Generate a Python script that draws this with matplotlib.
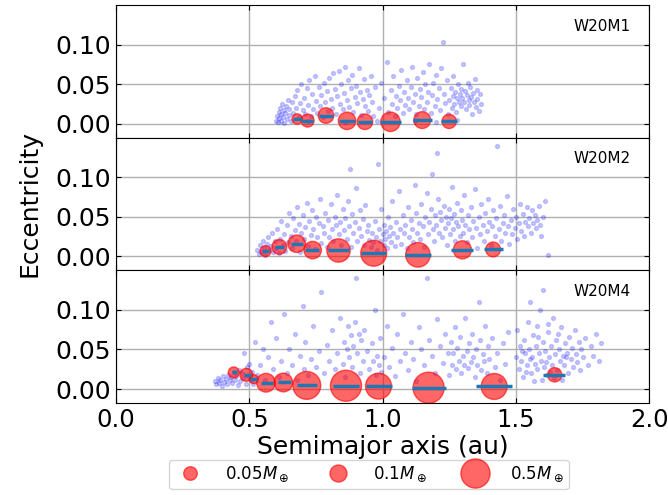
import numpy as np
import matplotlib.pyplot as plt
from matplotlib.lines import Line2D

plt.rcParams["font.size"] = 18

# Run names
runs = ['W20M1', 'W20M2', 'W20M4']

# Planets: semimajor axis (au), eccentricity, mass (M_earth), extent of blue bar (au)
a_p1 = [0.679, 0.718, 0.787, 0.866, 0.933, 1.029, 1.148, 1.249]
e_p1 = [0.006, 0.004, 0.0104, 0.0037, 0.0025, 0.0025, 0.0046, 0.003]
m_p1 = [0.023, 0.044, 0.076, 0.108, 0.076, 0.148, 0.096, 0.059]
lo_p1 = [0.662, 0.697, 0.762, 0.834, 0.906, 0.991, 1.114, 1.218]
hi_p1 = [0.696, 0.737, 0.812, 0.897, 0.960, 1.068, 1.183, 1.280]

a_p2 = [0.560, 0.612, 0.677, 0.737, 0.834, 0.966, 1.132, 1.299, 1.414]
e_p2 = [0.0067, 0.012, 0.016, 0.008, 0.0075, 0.004, 0.002, 0.0083, 0.0088]
m_p2 = [0.027, 0.066, 0.108, 0.108, 0.256, 0.352, 0.300, 0.121, 0.066]
lo_p2 = [0.548, 0.597, 0.656, 0.710, 0.793, 0.918, 1.083, 1.257, 1.380]
hi_p2 = [0.572, 0.630, 0.700, 0.762, 0.872, 1.012, 1.181, 1.340, 1.451]

a_p3 = [0.441, 0.488, 0.516, 0.562, 0.627, 0.715, 0.862, 0.984, 1.172, 1.418, 1.645]
e_p3 = [0.021, 0.018, 0.0125, 0.008, 0.0083, 0.0046, 0.0042, 0.0037, 0.0017, 0.0033, 0.018]
m_p3 = [0.027, 0.044, 0.015, 0.133, 0.133, 0.438, 0.607, 0.352, 0.607, 0.352, 0.059]
lo_p3 = [0.434, 0.479, 0.503, 0.544, 0.606, 0.679, 0.812, 0.937, 1.108, 1.349, 1.600]
hi_p3 = [0.452, 0.504, 0.529, 0.587, 0.654, 0.752, 0.912, 1.033, 1.237, 1.484, 1.685]

# Planetesimals (a, e)
small1 = [
    (0.600, 0.004), (0.603, 0.010), (0.607, 0.002), (0.610, 0.015), (0.612, 0.007), (0.615, 0.020),
    (0.618, 0.012), (0.620, 0.003), (0.623, 0.025), (0.625, 0.009), (0.628, 0.017), (0.630, 0.001),
    (0.633, 0.013), (0.636, 0.022), (0.640, 0.006), (0.643, 0.030), (0.647, 0.011), (0.650, 0.018),
    (0.655, 0.004), (0.660, 0.027), (0.665, 0.014), (0.670, 0.035), (0.675, 0.020), (0.680, 0.042),
    (0.685, 0.008), (0.690, 0.026), (0.695, 0.050), (0.700, 0.017), (0.705, 0.033), (0.710, 0.012),
    (0.715, 0.045), (0.720, 0.024), (0.725, 0.055), (0.730, 0.010), (0.735, 0.038), (0.740, 0.019),
    (0.745, 0.060), (0.750, 0.029), (0.755, 0.014), (0.760, 0.047), (0.765, 0.022), (0.770, 0.036),
    (0.775, 0.008), (0.780, 0.052), (0.785, 0.027), (0.790, 0.041), (0.795, 0.016), (0.800, 0.058),
    (0.805, 0.031), (0.810, 0.020), (0.815, 0.064), (0.820, 0.044), (0.825, 0.012), (0.830, 0.035),
    (0.835, 0.067), (0.840, 0.025), (0.845, 0.050), (0.850, 0.018), (0.855, 0.039), (0.860, 0.072),
    (0.865, 0.030), (0.870, 0.055), (0.875, 0.021), (0.880, 0.045), (0.885, 0.062), (0.890, 0.015),
    (0.895, 0.034), (0.900, 0.048), (0.905, 0.026), (0.910, 0.070), (0.915, 0.040), (0.920, 0.011),
    (0.925, 0.031), (0.930, 0.057), (0.935, 0.022), (0.940, 0.043), (0.945, 0.016), (0.950, 0.036),
    (0.955, 0.060), (0.960, 0.027), (0.965, 0.010), (0.970, 0.046), (0.985, 0.020), (0.995, 0.052),
    (1.005, 0.033), (1.015, 0.078), (1.020, 0.015), (1.030, 0.042), (1.035, 0.025), (1.040, 0.060),
    (1.045, 0.010), (1.050, 0.035), (1.055, 0.020), (1.060, 0.048), (1.065, 0.030), (1.070, 0.068),
    (1.075, 0.013), (1.080, 0.040), (1.085, 0.024), (1.090, 0.055), (1.095, 0.032), (1.100, 0.018),
    (1.105, 0.046), (1.110, 0.072), (1.115, 0.028), (1.120, 0.038), (1.125, 0.012), (1.130, 0.058),
    (1.135, 0.022), (1.140, 0.044), (1.145, 0.034), (1.150, 0.065), (1.155, 0.018), (1.160, 0.050),
    (1.165, 0.027), (1.170, 0.040), (1.175, 0.076), (1.180, 0.014), (1.185, 0.036), (1.190, 0.052),
    (1.195, 0.023), (1.200, 0.062), (1.205, 0.031), (1.210, 0.045), (1.215, 0.017), (1.220, 0.070),
    (1.225, 0.103), (1.230, 0.038), (1.235, 0.026), (1.240, 0.055), (1.245, 0.012), (1.250, 0.030),
    (1.255, 0.045), (1.258, 0.020), (1.262, 0.035), (1.265, 0.060), (1.268, 0.025), (1.272, 0.040),
    (1.275, 0.015), (1.278, 0.032), (1.282, 0.050), (1.285, 0.028), (1.288, 0.038), (1.292, 0.022),
    (1.295, 0.044), (1.298, 0.033), (1.302, 0.075), (1.305, 0.027), (1.308, 0.041), (1.312, 0.018),
    (1.315, 0.036), (1.318, 0.052), (1.322, 0.030), (1.325, 0.024), (1.328, 0.046), (1.332, 0.034),
    (1.335, 0.012), (1.338, 0.039), (1.342, 0.028), (1.345, 0.057), (1.348, 0.021), (1.352, 0.043),
    (1.355, 0.031), (1.360, 0.016), (1.365, 0.037), (1.370, 0.025), (0.720, 0.003), (0.860, 0.002),
    (0.980, 0.004), (1.120, 0.003), (1.280, 0.005), (1.200, 0.002),
]

small2 = [
    (0.530, 0.008), (0.535, 0.003), (0.540, 0.014), (0.545, 0.006), (0.550, 0.020), (0.555, 0.010),
    (0.560, 0.002), (0.565, 0.016), (0.570, 0.025), (0.575, 0.008), (0.580, 0.013), (0.585, 0.030),
    (0.590, 0.005), (0.595, 0.019), (0.600, 0.011), (0.605, 0.035), (0.610, 0.004), (0.615, 0.022),
    (0.620, 0.045), (0.625, 0.015), (0.630, 0.028), (0.635, 0.007), (0.640, 0.040), (0.645, 0.018),
    (0.650, 0.055), (0.655, 0.026), (0.660, 0.010), (0.665, 0.048), (0.670, 0.033), (0.675, 0.020),
    (0.680, 0.062), (0.685, 0.041), (0.690, 0.005), (0.695, 0.030), (0.700, 0.052), (0.705, 0.022),
    (0.710, 0.037), (0.715, 0.068), (0.720, 0.013), (0.725, 0.045), (0.730, 0.027), (0.735, 0.058),
    (0.740, 0.035), (0.745, 0.009), (0.750, 0.050), (0.755, 0.025), (0.760, 0.042), (0.765, 0.072),
    (0.770, 0.017), (0.775, 0.038), (0.780, 0.030), (0.785, 0.055), (0.790, 0.012), (0.795, 0.046),
    (0.800, 0.024), (0.805, 0.066), (0.810, 0.034), (0.815, 0.019), (0.820, 0.050), (0.825, 0.040),
    (0.830, 0.078), (0.835, 0.028), (0.840, 0.044), (0.845, 0.015), (0.850, 0.060), (0.855, 0.033),
    (0.860, 0.048), (0.865, 0.022), (0.870, 0.070), (0.875, 0.038), (0.878, 0.110), (0.880, 0.012),
    (0.885, 0.054), (0.890, 0.029), (0.895, 0.043), (0.900, 0.086), (0.905, 0.020), (0.910, 0.036),
    (0.915, 0.058), (0.920, 0.026), (0.925, 0.047), (0.930, 0.015), (0.935, 0.065), (0.940, 0.032),
    (0.945, 0.040), (0.950, 0.021), (0.955, 0.012), (0.960, 0.030), (0.965, 0.018), (0.970, 0.045),
    (0.975, 0.025), (0.980, 0.008), (0.983, 0.117), (0.985, 0.035), (0.990, 0.020), (0.995, 0.060),
    (1.000, 0.028), (1.003, 0.015), (1.006, 0.040), (1.010, 0.022), (1.013, 0.032), (1.016, 0.010),
    (1.020, 0.050), (1.024, 0.026), (1.028, 0.037), (1.032, 0.018), (1.036, 0.070), (1.040, 0.030),
    (1.045, 0.013), (1.050, 0.043), (1.055, 0.024), (1.060, 0.082), (1.065, 0.034), (1.070, 0.016),
    (1.075, 0.052), (1.080, 0.029), (1.085, 0.040), (1.090, 0.010), (1.095, 0.062), (1.100, 0.025),
    (1.105, 0.046), (1.110, 0.035), (1.115, 0.018), (1.120, 0.090), (1.125, 0.055), (1.130, 0.030),
    (1.135, 0.042), (1.140, 0.022), (1.145, 0.066), (1.150, 0.038), (1.155, 0.012), (1.160, 0.050),
    (1.165, 0.080), (1.170, 0.028), (1.175, 0.044), (1.180, 0.060), (1.185, 0.104), (1.188, 0.034),
    (1.192, 0.020), (1.196, 0.052), (1.200, 0.040), (1.205, 0.130), (1.208, 0.072), (1.212, 0.030),
    (1.216, 0.056), (1.220, 0.046), (1.224, 0.024), (1.228, 0.064), (1.232, 0.036), (1.236, 0.050),
    (1.240, 0.015), (1.244, 0.042), (1.248, 0.060), (1.252, 0.028), (1.256, 0.048), (1.260, 0.088),
    (1.264, 0.034), (1.268, 0.054), (1.272, 0.020), (1.276, 0.044), (1.280, 0.068), (1.284, 0.038),
    (1.288, 0.026), (1.292, 0.058), (1.296, 0.046), (1.300, 0.030), (1.305, 0.078), (1.310, 0.040),
    (1.315, 0.018), (1.320, 0.052), (1.325, 0.034), (1.330, 0.062), (1.335, 0.024), (1.340, 0.045),
    (1.345, 0.085), (1.350, 0.036), (1.355, 0.010), (1.360, 0.050), (1.365, 0.028), (1.370, 0.066),
    (1.375, 0.040), (1.380, 0.020), (1.385, 0.055), (1.390, 0.032), (1.395, 0.072), (1.400, 0.044),
    (1.405, 0.014), (1.410, 0.038), (1.415, 0.058), (1.420, 0.026), (1.425, 0.048), (1.430, 0.140),
    (1.435, 0.034), (1.440, 0.064), (1.445, 0.020), (1.450, 0.042), (1.455, 0.052), (1.460, 0.030),
    (1.465, 0.076), (1.470, 0.038), (1.475, 0.016), (1.480, 0.046), (1.485, 0.028), (1.490, 0.060),
    (1.495, 0.036), (1.500, 0.050), (1.505, 0.022), (1.510, 0.042), (1.515, 0.066), (1.520, 0.032),
    (1.525, 0.054), (1.530, 0.026), (1.535, 0.044), (1.540, 0.062), (1.545, 0.038), (1.550, 0.048),
    (1.555, 0.030), (1.560, 0.058), (1.565, 0.042), (1.570, 0.052), (1.575, 0.036), (1.580, 0.046),
    (1.585, 0.064), (1.590, 0.040), (1.595, 0.026), (1.600, 0.050), (1.610, 0.070), (1.620, 0.002),
]

small3 = [
    (0.370, 0.010), (0.375, 0.006), (0.380, 0.014), (0.385, 0.008), (0.390, 0.012), (0.395, 0.004),
    (0.400, 0.016), (0.405, 0.009), (0.410, 0.013), (0.415, 0.006), (0.420, 0.018), (0.425, 0.011),
    (0.430, 0.015), (0.435, 0.008), (0.440, 0.022), (0.445, 0.012), (0.450, 0.017), (0.455, 0.005),
    (0.460, 0.024), (0.465, 0.010), (0.470, 0.020), (0.475, 0.014), (0.480, 0.045), (0.485, 0.007),
    (0.490, 0.028), (0.495, 0.016), (0.500, 0.032), (0.505, 0.011), (0.510, 0.022), (0.515, 0.006),
    (0.520, 0.060), (0.530, 0.018), (0.540, 0.030), (0.550, 0.050), (0.560, 0.012), (0.570, 0.040),
    (0.580, 0.085), (0.590, 0.025), (0.600, 0.065), (0.610, 0.015), (0.620, 0.035), (0.630, 0.095),
    (0.640, 0.020), (0.650, 0.050), (0.660, 0.030), (0.670, 0.070), (0.680, 0.012), (0.690, 0.042),
    (0.700, 0.105), (0.705, 0.025), (0.710, 0.060), (0.720, 0.018), (0.730, 0.038), (0.740, 0.080),
    (0.750, 0.028), (0.760, 0.048), (0.770, 0.122), (0.780, 0.020), (0.790, 0.056), (0.800, 0.035),
    (0.810, 0.075), (0.820, 0.025), (0.830, 0.045), (0.840, 0.090), (0.850, 0.032), (0.855, 0.060),
    (0.860, 0.015), (0.865, 0.050), (0.870, 0.080), (0.875, 0.040), (0.880, 0.068), (0.885, 0.028),
    (0.890, 0.055), (0.895, 0.085), (0.900, 0.140), (0.905, 0.045), (0.910, 0.070), (0.915, 0.020),
    (0.920, 0.062), (0.925, 0.036), (0.930, 0.075), (0.940, 0.048), (0.950, 0.025), (0.960, 0.058),
    (0.965, 0.035), (0.970, 0.100), (0.975, 0.018), (0.980, 0.042), (0.985, 0.030), (0.990, 0.065),
    (0.995, 0.022), (1.005, 0.040), (1.015, 0.080), (1.025, 0.028), (1.035, 0.052), (1.045, 0.016),
    (1.055, 0.070), (1.065, 0.035), (1.075, 0.095), (1.085, 0.045), (1.095, 0.024), (1.105, 0.060),
    (1.115, 0.038), (1.125, 0.010), (1.135, 0.078), (1.145, 0.050), (1.155, 0.030), (1.165, 0.140),
    (1.175, 0.062), (1.185, 0.042), (1.195, 0.020), (1.205, 0.088), (1.215, 0.055), (1.225, 0.033),
    (1.235, 0.070), (1.245, 0.046), (1.250, 0.018), (1.255, 0.060), (1.260, 0.030), (1.265, 0.045),
    (1.270, 0.078), (1.275, 0.025), (1.280, 0.052), (1.285, 0.036), (1.290, 0.066), (1.295, 0.020),
    (1.300, 0.042), (1.305, 0.030), (1.310, 0.090), (1.315, 0.048), (1.320, 0.026), (1.325, 0.058),
    (1.330, 0.034), (1.335, 0.070), (1.340, 0.040), (1.345, 0.015), (1.350, 0.050), (1.355, 0.030),
    (1.360, 0.110), (1.365, 0.062), (1.370, 0.024), (1.375, 0.044), (1.380, 0.035), (1.385, 0.080),
    (1.390, 0.020), (1.395, 0.054), (1.400, 0.038), (1.410, 0.065), (1.420, 0.028), (1.430, 0.046),
    (1.440, 0.012), (1.450, 0.058), (1.460, 0.032), (1.470, 0.072), (1.500, 0.040), (1.505, 0.075),
    (1.510, 0.025), (1.515, 0.055), (1.520, 0.035), (1.525, 0.015), (1.530, 0.062), (1.535, 0.045),
    (1.540, 0.030), (1.545, 0.085), (1.550, 0.050), (1.555, 0.020), (1.560, 0.040), (1.565, 0.068),
    (1.570, 0.032), (1.575, 0.054), (1.580, 0.025), (1.585, 0.046), (1.590, 0.100), (1.595, 0.036),
    (1.600, 0.060), (1.605, 0.028), (1.610, 0.048), (1.615, 0.018), (1.620, 0.072), (1.625, 0.040),
    (1.630, 0.055), (1.635, 0.030), (1.640, 0.090), (1.645, 0.044), (1.650, 0.062), (1.655, 0.024),
    (1.660, 0.050), (1.665, 0.036), (1.670, 0.078), (1.675, 0.042), (1.680, 0.030), (1.685, 0.058),
    (1.690, 0.046), (1.695, 0.020), (1.700, 0.066), (1.705, 0.038), (1.710, 0.052), (1.715, 0.028),
    (1.720, 0.074), (1.725, 0.044), (1.730, 0.034), (1.735, 0.060), (1.740, 0.024), (1.745, 0.050),
    (1.750, 0.040), (1.760, 0.064), (1.770, 0.030), (1.780, 0.054), (1.790, 0.042), (1.800, 0.070),
    (1.810, 0.036), (1.820, 0.058), (1.522, 0.048), (1.538, 0.022), (1.552, 0.038), (1.568, 0.010),
    (1.582, 0.066), (1.598, 0.012), (1.612, 0.034), (1.628, 0.022), (1.642, 0.014), (1.658, 0.070),
    (1.672, 0.012), (1.688, 0.040), (1.552, 0.110), (1.600, 0.125), (1.620, 0.082), (1.580, 0.080),
]

# Legend masses
leg_m = [0.05, 0.1, 0.5]
leg_lab = [r'$0.05M_\oplus$', r'$0.1M_\oplus$', r'$0.5M_\oplus$']


def msize(m):
    return 700 * np.asarray(m) ** (2. / 3.)


planets = [
    (a_p1, e_p1, m_p1, lo_p1, hi_p1),
    (a_p2, e_p2, m_p2, lo_p2, hi_p2),
    (a_p3, e_p3, m_p3, lo_p3, hi_p3),
]
smalls = [small1, small2, small3]

fig, axes = plt.subplots(3, 1, figsize=(6.68, 4.95), sharex=True, sharey=True)
fig.subplots_adjust(left=0.174, right=0.972, top=0.99, bottom=0.186, hspace=0)

for ax, run, pl, sm in zip(axes, runs, planets, smalls):
    sm = np.array(sm)
    ax.scatter(sm[:, 0], sm[:, 1], s=8, color='blue', alpha=0.2, zorder=2)
    a, e, m, lo, hi = pl
    ax.scatter(a, e, s=msize(m), color='red', alpha=0.6, zorder=3)
    ax.hlines(e, lo, hi, color='C0', lw=2.5, zorder=4)
    ax.text(0.965, 0.84, run, transform=ax.transAxes, ha='right', va='center', fontsize=11)
    ax.grid(True, color='#b0b0b0', lw=1)
    ax.set_axisbelow(True)
    ax.tick_params(direction='in', top=True, right=True)
    ax.set_yticks([0.0, 0.05, 0.10])

axes[0].set_xlim(0, 2)
axes[0].set_ylim(-0.0175, 0.15)
axes[-1].set_xticks([0.0, 0.5, 1.0, 1.5, 2.0])
axes[-1].tick_params(axis='x', labelsize=17.5)
axes[-1].set_xlabel('Semimajor axis (au)', labelpad=2)
axes[1].set_ylabel('Eccentricity', labelpad=10)

handles = [Line2D([], [], ls='', marker='o', color='red', alpha=0.6,
                  markersize=np.sqrt(msize(mm))) for mm in leg_m]
fig.legend(handles, leg_lab, loc='lower center', bbox_to_anchor=(0.552, -0.005),
           ncol=3, fontsize=12, columnspacing=1.9, handletextpad=1.1, borderpad=0.3)

plt.savefig('out.png', dpi=100)
